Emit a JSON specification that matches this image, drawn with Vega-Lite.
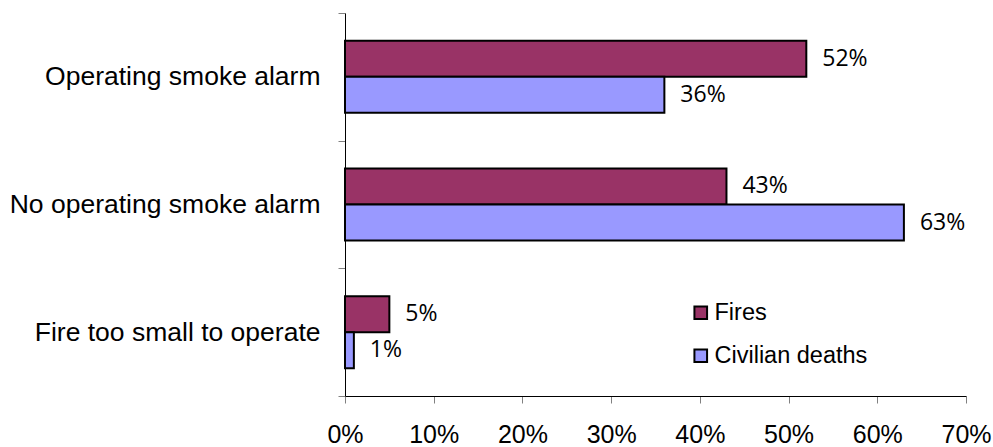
{
  "$schema": "https://vega.github.io/schema/vega-lite/v6.json",
  "width": 621,
  "height": 383,
  "autosize": {"type": "none"},
  "padding": {"left": 345, "top": 13, "right": 27, "bottom": 51},
  "background": "white",
  "config": {"view": {"stroke": null}},
  "data": {
    "values": [
      {"cause": "Operating smoke alarm", "series": "Fires", "value": 0.52},
      {"cause": "Operating smoke alarm", "series": "Civilian deaths", "value": 0.36},
      {"cause": "No operating smoke alarm", "series": "Fires", "value": 0.43},
      {"cause": "No operating smoke alarm", "series": "Civilian deaths", "value": 0.63},
      {"cause": "Fire too small to operate", "series": "Fires", "value": 0.05},
      {"cause": "Fire too small to operate", "series": "Civilian deaths", "value": 0.01}
    ]
  },
  "encoding": {
    "y": {
      "field": "cause",
      "type": "nominal",
      "sort": ["Operating smoke alarm", "No operating smoke alarm", "Fire too small to operate"],
      "scale": {"paddingInner": 0, "paddingOuter": 0},
      "axis": {
        "title": null,
        "tickBand": "extent",
        "domainColor": "black",
        "domainWidth": 1,
        "tickColor": "#808080",
        "tickSize": 7,
        "labelPadding": 18,
        "labelFont": "Liberation Sans",
        "labelFontSize": 26.5,
        "labelColor": "black",
        "labelLimit": 400
      }
    },
    "yOffset": {
      "field": "series",
      "type": "nominal",
      "sort": ["Fires", "Civilian deaths"],
      "scale": {"paddingInner": 0, "paddingOuter": 0.773}
    },
    "x": {
      "field": "value",
      "type": "quantitative",
      "scale": {"domain": [0, 0.7], "nice": false},
      "axis": {
        "title": null,
        "values": [0, 0.1, 0.2, 0.3, 0.4, 0.5, 0.6, 0.7],
        "format": ".0%",
        "grid": false,
        "domainColor": "black",
        "domainWidth": 1,
        "tickColor": "#808080",
        "tickSize": 7,
        "labelPadding": 19,
        "labelFont": "Liberation Sans",
        "labelFontSize": 25,
        "labelColor": "black",
        "labelFlush": false
      }
    }
  },
  "layer": [
    {
      "mark": {"type": "bar", "stroke": "black", "strokeWidth": 2},
      "encoding": {
        "color": {
          "field": "series",
          "type": "nominal",
          "sort": ["Fires", "Civilian deaths"],
          "scale": {"domain": ["Fires", "Civilian deaths"], "range": ["#993366", "#9999FF"]},
          "legend": {
            "title": null,
            "orient": "none",
            "legendX": 344,
            "legendY": 288,
            "symbolType": "square",
            "symbolSize": 160,
            "symbolStrokeColor": "black",
            "symbolStrokeWidth": 2,
            "symbolOpacity": 1,
            "labelFont": "Liberation Sans",
            "labelFontSize": 23.5,
            "labelColor": "black",
            "labelOffset": 2,
            "rowPadding": 18
          }
        }
      }
    },
    {
      "mark": {"type": "text", "align": "left", "baseline": "middle", "dx": 16, "font": "Open Sans", "fontSize": 23, "color": "black"},
      "encoding": {"text": {"field": "value", "type": "quantitative", "format": ".0%"}}
    }
  ]
}
